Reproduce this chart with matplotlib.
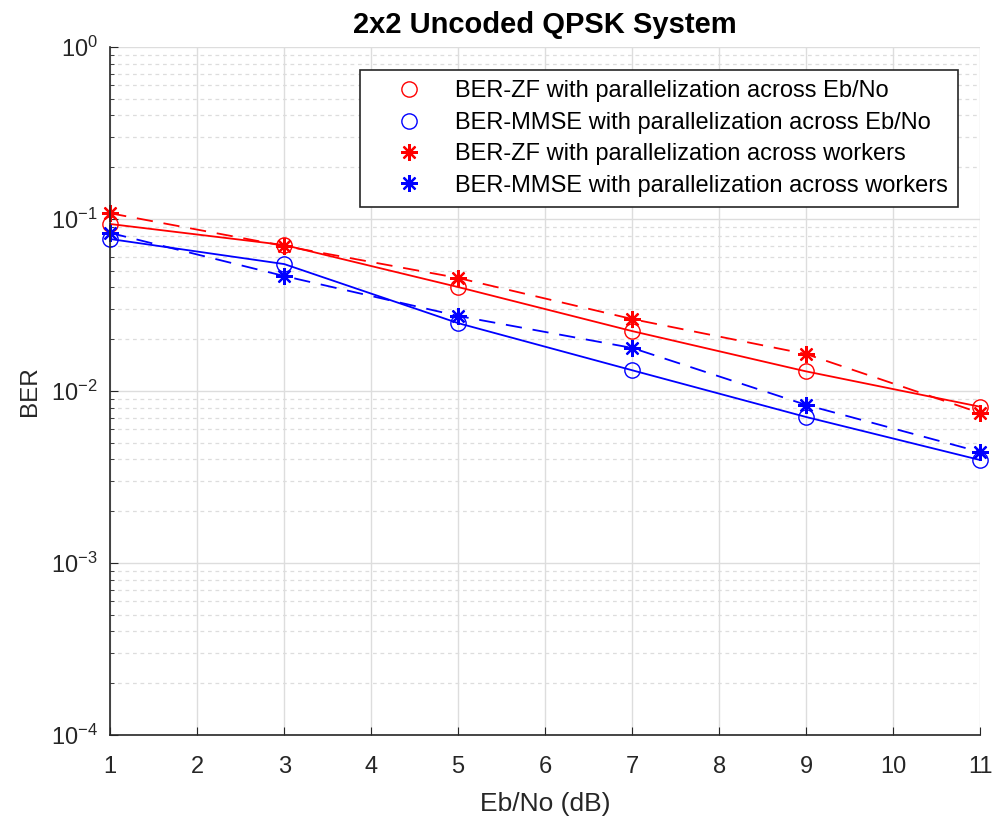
import numpy as np
import matplotlib.pyplot as plt
from matplotlib.lines import Line2D

ebno = [1, 3, 5, 7, 9, 11]
ber_zf_ebno = [0.0935, 0.0706, 0.0402, 0.0223, 0.0130, 0.0081]
ber_mmse_ebno = [0.0765, 0.0547, 0.0248, 0.0132, 0.00706, 0.00397]
ber_zf_workers = [0.108, 0.0697, 0.0454, 0.0262, 0.0164, 0.00745]
ber_mmse_workers = [0.083, 0.0466, 0.0273, 0.0178, 0.0083, 0.00442]

labels = ['BER-ZF with parallelization across Eb/No',
          'BER-MMSE with parallelization across Eb/No',
          'BER-ZF with parallelization across workers',
          'BER-MMSE with parallelization across workers']

plt.rcParams['font.family'] = ['Liberation Sans', 'DejaVu Sans']

fig = plt.figure(figsize=(9.93, 8.19), dpi=100)
ax = fig.add_axes([0.111, 0.1026, 0.876, 0.840])

star = (8, 2, 0)
ax.semilogy(ebno, ber_zf_ebno, '-o', color='red', mfc='none', ms=11, lw=1.3, clip_on=False)
ax.semilogy(ebno, ber_mmse_ebno, '-o', color='blue', mfc='none', ms=11, lw=1.3, clip_on=False)
ax.semilogy(ebno, ber_zf_workers, '--', marker=star, color='red', ms=12, mew=1.6,
            lw=1.3, dashes=(9, 6), clip_on=False)
ax.semilogy(ebno, ber_mmse_workers, '--', marker=star, color='blue', ms=12, mew=1.6,
            lw=1.3, dashes=(9, 6), clip_on=False)

ax.set_xlim(1, 11)
ax.set_ylim(1e-4, 1)
ax.set_xticks(range(1, 12))
ax.grid(True, which='major', color='#dddddd', lw=1)
ax.grid(True, which='minor', color='#dddddd', lw=0.9, ls=(0, (3, 3)))
ax.set_axisbelow(True)
for s in ['top', 'right']:
    ax.spines[s].set_visible(False)
for s in ['left', 'bottom']:
    ax.spines[s].set_color('#262626')
    ax.spines[s].set_linewidth(1.2)
ax.tick_params(which='both', direction='in', labelsize=17, colors='#262626')
ax.tick_params(axis='x', pad=15)
ax.tick_params(axis='y', pad=9)
ax.tick_params(which='major', length=6)
ax.tick_params(which='minor', length=3)

ax.set_xlabel('Eb/No (dB)', fontsize=19, color='#262626', labelpad=10)
ax.set_ylabel('BER', fontsize=17.5, color='#262626', labelpad=7)
ax.set_title('2x2 Uncoded QPSK System', fontsize=21, fontweight='bold', pad=10)

handles = [Line2D([], [], ls='none', marker='o', color='red', mfc='none', ms=11),
           Line2D([], [], ls='none', marker='o', color='blue', mfc='none', ms=11),
           Line2D([], [], ls='none', marker=star, color='red', ms=12, mew=1.6),
           Line2D([], [], ls='none', marker=star, color='blue', ms=12, mew=1.6)]
leg = ax.legend(handles, labels, loc='upper right', bbox_to_anchor=(0.975, 0.967),
                fontsize=17, fancybox=False, framealpha=1, edgecolor='#262626',
                handlelength=3.25, handletextpad=0.3, borderpad=0.45,
                labelspacing=0.4, borderaxespad=0)
leg.get_frame().set_linewidth(1.2)

fig.savefig('out.png', dpi=100)
